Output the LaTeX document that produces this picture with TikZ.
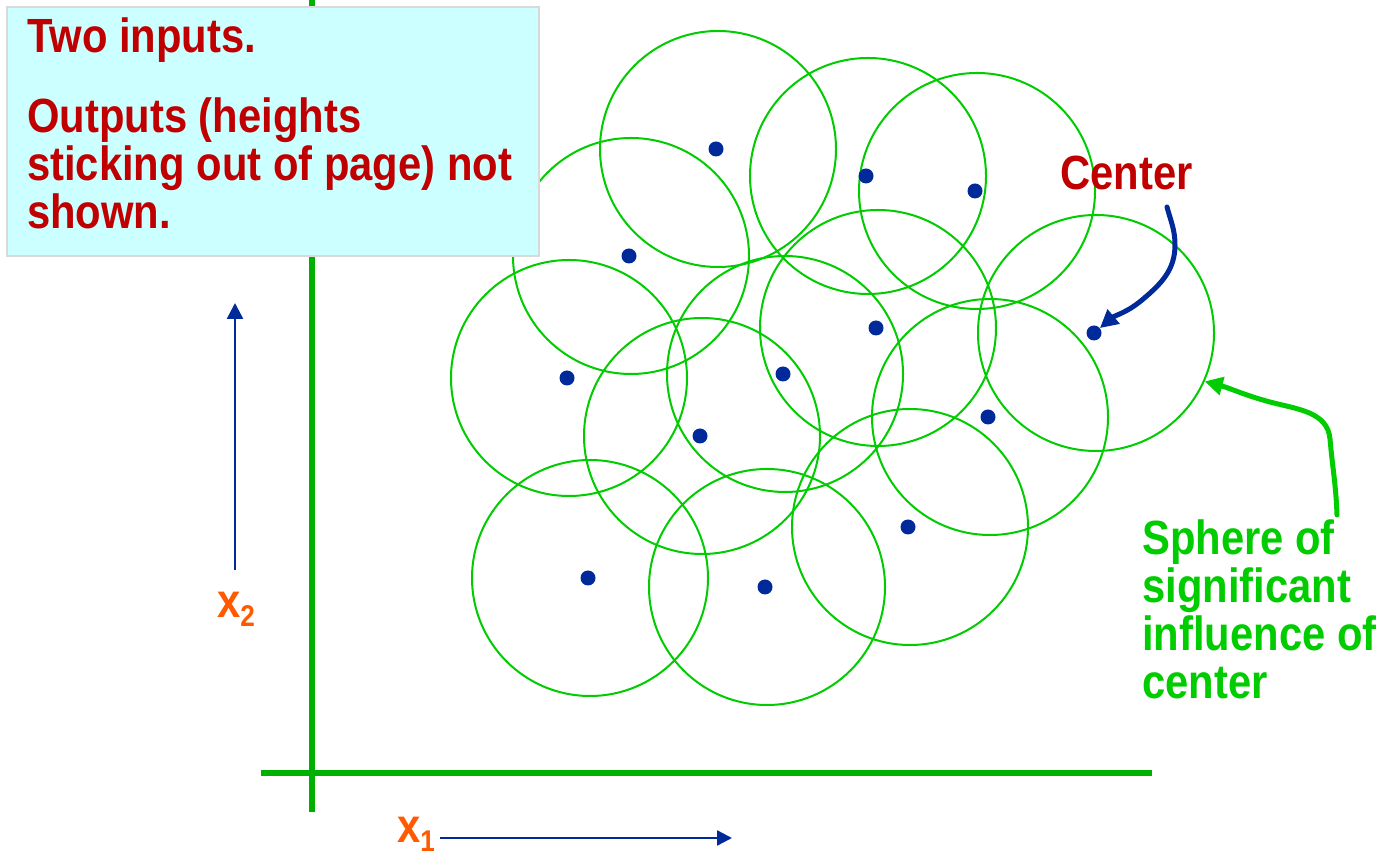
\documentclass[tikz,border=0pt]{standalone}
\usepackage{fontspec}
\setmainfont{Liberation Sans}[FakeStretch=0.87]
\usepackage{tikz}
\usetikzlibrary{arrows.meta}
\usetikzlibrary{positioning}
\definecolor{axisgreen}{RGB}{0,176,0}
\definecolor{ringgreen}{RGB}{0,204,0}
\definecolor{dotblue}{RGB}{0,42,153}
\definecolor{titlered}{RGB}{192,0,0}
\definecolor{labelorange}{RGB}{255,90,0}
\definecolor{boxcyan}{RGB}{204,255,255}
\definecolor{boxgray}{RGB}{217,217,217}
\tikzset{headed/.style = {-{Triangle[length=#1, width=#1]}}}
\tikzset{ctrdot/.style = {fill=dotblue, circle, inner sep = 0, minimum size = 15}}
\tikzset{ring/.style = {draw=ringgreen, circle, line width = 2, inner sep = 0, minimum size = 236}}
\tikzset{big/.style = {font=\fontsize{48}{48}\selectfont\bfseries, inner sep = 0}}
\newcommand{\lowidx}[1]{\raisebox{-9pt}{\fontsize{30}{30}\selectfont #1}}

\begin{document}
\begin{tikzpicture}[x=1pt, y=1pt]
    \useasboundingbox (0, 0) rectangle (1382, 857);

    % axes
    \draw [axisgreen, line width = 6] (312, 857) -- (312, 45);
    \draw [axisgreen, line width = 6] (261, 84) -- (1152, 84);

    % centres and their spheres
    \foreach \i/\x/\y in {1/716/708, 2/866/681, 3/975/666, 4/629/601, 5/876/529,
                          6/1094/524, 7/567/479, 8/783/483, 9/700/421, 10/988/440,
                          11/908/330, 12/588/279, 13/765/270}
      \node [ring] (ring\i) at (\x+2, \y) {};
    \foreach \i/\x/\y in {1/716/708, 2/866/681, 3/975/666, 4/629/601, 5/876/529,
                          6/1094/524, 7/567/479, 8/783/483, 9/700/421, 10/988/440,
                          11/908/330, 12/588/279, 13/765/270}
      \node [ctrdot] (ctr\i) at (\x, \y) {};

    \node [draw=boxgray, fill=boxcyan, line width = 2, inner sep = 0, minimum width = 532,
           minimum height = 249, anchor=north west] (notebox) at (6, 851) {};
    \node [big, text=titlered, anchor=base west] (inputs) at (27, 804) {Two inputs.};
    \node [big, text=titlered, anchor=north west, align=left] (outputs) at (27, 759)
      {Outputs (heights\\sticking out of page) not\\shown.};

    % input directions
    \node [big, text=labelorange, anchor=base west] (xtwo) at (217, 239) {x\lowidx{2}};
    \node [big, text=labelorange, anchor=base west] (xone) at (397, 14) {x\lowidx{1}};
    \coordinate (xtwotop) at (235, 554);
    \coordinate (xonefrom) at (440, 19);
    \coordinate (xoneto) at (732, 19);
    \draw [dotblue, line width = 2.5, headed=16] ([yshift=22]xtwo.north -| xtwotop) -- (xtwotop);
    \draw [dotblue, line width = 2.5, headed=15] (xonefrom) -- (xoneto);

    % labels with curved pointers
    \node [big, text=titlered, anchor=base west] (centrelbl) at (1060, 667) {Center};
    \coordinate (centretail) at (1167, 650);
    \draw [dotblue, line width = 5, line cap=round, headed=18] (centretail)
      to [out=-75, in=90] (1175, 612) to [out=-90, in=40] (1142, 557) to [out=220, in=40] (ctr6);

    \node [big, text=ringgreen, anchor=north west, align=left] (spherelbl) at (1142, 337)
      {Sphere of\\significant\\influence of\\center};
    \coordinate (spheretail) at (1337, 342);
    \draw [ringgreen, line width = 5, line cap=round, headed=18] (spheretail)
      to [out=92, in=-85] (1330, 418) to [out=95, in=-15] (1270, 455) to [out=165, in=-15] (ring6.-24);
  \end{tikzpicture}
\end{document}
